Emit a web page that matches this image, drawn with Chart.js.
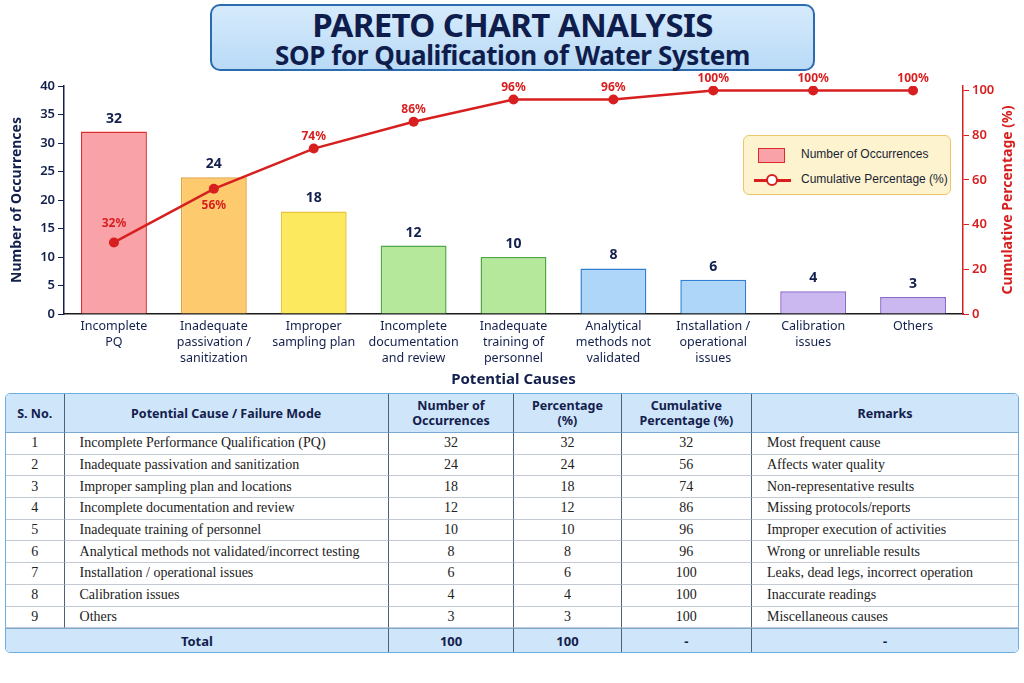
<!DOCTYPE html>
<html>
<head>
<meta charset="utf-8">
<script src="https://cdn.jsdelivr.net/npm/chart.js@4.4.1/dist/chart.umd.min.js"></script>
<style>
    body { margin: 0; width: 1024px; height: 683px; background: #ffffff; position: relative; overflow: hidden; font-family: "Noto Sans", sans-serif; }
    #titleBox {
        position: absolute; left: 210px; top: 4px; width: 605px; height: 67px; box-sizing: border-box;
        border: 2px solid #2b6cb0; border-radius: 10px;
        background: linear-gradient(#d6ebfc, #b9daf6);
        text-align: center; color: #0f1d4d; font-weight: 700;
    }
    #titleBox .t1 { font-size: 33px; line-height: 34px; margin-top: 2px; letter-spacing: -0.6px; }
    #titleBox .t2 { font-size: 26px; line-height: 26px; letter-spacing: -0.4px; }
    #chartWrap { position: absolute; left: 0; top: 72px; width: 1024px; height: 320px; }
    #legendBox {
        position: absolute; left: 743px; top: 135px; width: 208px; height: 60px; box-sizing: border-box;
        border: 1px solid #e9c767; border-radius: 6px; background: #fdf3cf;
        font-family: "Liberation Sans", sans-serif; font-size: 12px; color: #1a1f36;
    }
    .lg-row { position: absolute; left: 0; height: 20px; display: flex; align-items: center; }
    .lg-box { position: absolute; left: 14px; top: 3px; width: 27px; height: 15px; box-sizing: border-box; background: #f9a3a8; border: 1.5px solid #d92b2b; }
    .lg-line { position: absolute; left: 10px; top: 9px; width: 37px; height: 2.5px; background: #d81f1f; }
    .lg-dot { position: absolute; left: 22px; top: 4px; width: 12px; height: 12px; box-sizing: border-box; border: 2.5px solid #d81f1f; border-radius: 50%; background: #fff; }
    .lg-text { position: absolute; left: 57px; top: 2px; white-space: nowrap; }
    #dataTable {
        position: absolute; left: 5px; top: 393px; width: 1014px; border-collapse: separate; border-spacing: 0;
        border: 1.5px solid #6aaee2; border-radius: 5px; overflow: hidden;
        font-family: "Liberation Serif", serif; font-size: 14px; color: #222;
    }
    #dataTable th {
        background: #cfe6fa; font-family: "Noto Sans", sans-serif; font-weight: 700; font-size: 12.5px; color: #13204d;
        height: 38px; line-height: 15px; padding: 0; border-left: 1px solid #4d6277; border-bottom: 1px solid #7aa9d3;
    }
    #dataTable td { height: 20.7px; padding: 0; border-left: 1px solid #4d6277; border-bottom: 1px solid #c3cad3; line-height: 20px; }
    #dataTable tr td:first-child, #dataTable tr th:first-child { border-left: none; }
    #dataTable td.c { text-align: center; }
    #dataTable td.l { padding-left: 15px; }
    #dataTable tr.total td {
        background: #cfe6fa; font-family: "Noto Sans", sans-serif; font-weight: 700; font-size: 13px; color: #13204d;
        height: 23px; border-bottom: none; border-top: 1px solid #7aa9d3;
    }
</style>
</head>
<body>
<div id="titleBox">
    <div class="t1">PARETO CHART ANALYSIS</div>
    <div class="t2">SOP for Qualification of Water System</div>
</div>
<div id="chartWrap"><canvas id="paretoChart"></canvas></div>
<div id="legendBox">
    <div class="lg-row" style="top:9px"><div class="lg-box"></div><span class="lg-text">Number of Occurrences</span></div>
    <div class="lg-row" style="top:34px"><div class="lg-line"></div><div class="lg-dot"></div><span class="lg-text">Cumulative Percentage (%)</span></div>
</div>
<table id="dataTable">
    <thead></thead>
    <tbody></tbody>
</table>
<script>
"use strict";

// Gegevens uit de grafiek en de tabel.
const causeLabels = [
    ["Incomplete", "PQ"],
    ["Inadequate", "passivation /", "sanitization"],
    ["Improper", "sampling plan"],
    ["Incomplete", "documentation", "and review"],
    ["Inadequate", "training of", "personnel"],
    ["Analytical", "methods not", "validated"],
    ["Installation /", "operational", "issues"],
    ["Calibration", "issues"],
    ["Others"]
];
const occurrences = [32, 24, 18, 12, 10, 8, 6, 4, 3];
const cumulativePct = [32, 56, 74, 86, 96, 96, 100, 100, 100];
const percentages = [32, 24, 18, 12, 10, 8, 6, 4, 3];
const leftTicks = [0, 5, 10, 15, 20, 25, 30, 35, 40];
const rightTicks = [0, 20, 40, 60, 80, 100];

const tableHeaders = ["S. No.", "Potential Cause / Failure Mode", "Number of<br>Occurrences", "Percentage<br>(%)", "Cumulative<br>Percentage (%)", "Remarks"];
const tableCauses = [
    "Incomplete Performance Qualification (PQ)",
    "Inadequate passivation and sanitization",
    "Improper sampling plan and locations",
    "Incomplete documentation and review",
    "Inadequate training of personnel",
    "Analytical methods not validated/incorrect testing",
    "Installation / operational issues",
    "Calibration issues",
    "Others"
];
const remarks = [
    "Most frequent cause",
    "Affects water quality",
    "Non-representative results",
    "Missing protocols/reports",
    "Improper execution of activities",
    "Wrong or unreliable results",
    "Leaks, dead legs, incorrect operation",
    "Inaccurate readings",
    "Miscellaneous causes"
];
const totalRow = ["Total", "100", "100", "-", "-"];

// Kleuren per staaf.
const barFill = ["#f9a3a8", "#fdca6e", "#fde95e", "#b5e89b", "#b5e89b", "#aed6f8", "#aed6f8", "#cbb8f1", "#cbb8f1"];
const barBorder = ["#dc3030", "#e5a23c", "#e7c43d", "#4fa845", "#4fa845", "#2f80d2", "#2f80d2", "#8b6ccb", "#8b6ccb"];

const navy = "#13204d";
const red = "#d81f1f";

// Bouw de tabel op uit de arrays.
function bouwTabel() {
    const colWidths = [58, 326, 125, 107, 130, 268];
    const thead = document.querySelector("#dataTable thead");
    let kop = "<tr>";
    tableHeaders.forEach((h, i) => { kop += `<th style="width:${colWidths[i]}px">${h}</th>`; });
    thead.innerHTML = kop + "</tr>";

    const tbody = document.querySelector("#dataTable tbody");
    let html = "";
    tableCauses.forEach((c, i) => {
        html += `<tr>
            <td class="c">${i + 1}</td>
            <td class="l">${c}</td>
            <td class="c">${occurrences[i]}</td>
            <td class="c">${percentages[i]}</td>
            <td class="c">${cumulativePct[i]}</td>
            <td class="l">${remarks[i]}</td>
        </tr>`;
    });
    html += `<tr class="total"><td class="c" colspan="2">${totalRow[0]}</td>`;
    for (let i = 1; i < totalRow.length; i++) {
        html += `<td class="c">${totalRow[i]}</td>`;
    }
    tbody.innerHTML = html + "</tr>";
}

// Plugin voor de waardes boven de staven, de percentages bij de punten en de rechter astitel.
const labelPlugin = {
    id: "labelPlugin",
    afterDatasetsDraw(chart) {
        const ctx = chart.ctx;
        ctx.save();
        ctx.textAlign = "center";
        ctx.textBaseline = "middle";

        const barMeta = chart.getDatasetMeta(1);
        ctx.font = "bold 14px 'Noto Sans', sans-serif";
        ctx.fillStyle = navy;
        barMeta.data.forEach((bar, i) => {
            ctx.fillText(occurrences[i], bar.x, bar.y - 13);
        });

        const lineMeta = chart.getDatasetMeta(0);
        ctx.font = "bold 12px 'Noto Sans', sans-serif";
        ctx.fillStyle = red;
        lineMeta.data.forEach((pt, i) => {
            let dy = -12;
            if (i === 0) dy = -19;
            if (i === 1) dy = 17;
            ctx.fillText(cumulativePct[i] + "%", pt.x, pt.y + dy);
        });

        // Rechter astitel, leesrichting van onder naar boven.
        const area = chart.chartArea;
        ctx.translate(1008, (area.top + area.bottom) / 2);
        ctx.rotate(-Math.PI / 2);
        ctx.font = "bold 14px 'Noto Sans', sans-serif";
        ctx.fillText("Cumulative Percentage (%)", 0, 0);
        ctx.restore();
    }
};

function tekenGrafiek() {
    Chart.defaults.font.family = "'Noto Sans', sans-serif";
    Chart.defaults.color = navy;

    const canvas = document.getElementById("paretoChart").getContext("2d");
    new Chart(canvas, {
        type: "bar",
        data: {
            labels: causeLabels,
            datasets: [
                {
                    type: "line",
                    label: "Cumulative Percentage (%)",
                    data: cumulativePct,
                    yAxisID: "yRight",
                    borderColor: red,
                    backgroundColor: red,
                    borderWidth: 2.5,
                    pointRadius: 5,
                    pointBackgroundColor: red,
                    pointBorderWidth: 0,
                    tension: 0,
                    order: 0
                },
                {
                    type: "bar",
                    label: "Number of Occurrences",
                    data: occurrences,
                    yAxisID: "yLeft",
                    backgroundColor: barFill,
                    borderColor: barBorder,
                    borderWidth: 1.5,
                    barPercentage: 0.66,
                    categoryPercentage: 1,
                    order: 1
                }
            ]
        },
        options: {
            responsive: true,
            maintainAspectRatio: false,
            animation: false,
            layout: { padding: { top: 14, left: 0, right: 0, bottom: 0 } },
            plugins: {
                legend: { display: false },
                tooltip: { enabled: false }
            },
            scales: {
                x: {
                    grid: { display: false, drawTicks: false },
                    border: { display: true, color: "#1a1a1a", width: 1.5 },
                    ticks: {
                        color: navy,
                        font: { size: 12.5, lineHeight: 1.25 },
                        padding: 5,
                        maxRotation: 0,
                        autoSkip: false
                    },
                    title: {
                        display: true,
                        text: "Potential Causes",
                        color: navy,
                        font: { size: 15, weight: "bold" },
                        padding: { top: 0, bottom: 3 }
                    },
                    afterFit(scale) { scale.height = 78; }
                },
                yLeft: {
                    position: "left",
                    min: 0,
                    max: 40,
                    afterBuildTicks(scale) { scale.ticks = leftTicks.map(v => ({ value: v })); },
                    grid: { drawOnChartArea: false, drawTicks: true, tickLength: 6, color: navy },
                    border: { display: true, color: navy, width: 1.5 },
                    ticks: { color: navy, font: { size: 13, weight: "600" }, padding: 3 },
                    title: {
                        display: true,
                        text: "Number of Occurrences",
                        color: navy,
                        font: { size: 14, weight: "bold" },
                        padding: { top: 9, bottom: 0 }
                    },
                    afterFit(scale) { scale.width = 64; }
                },
                yRight: {
                    position: "right",
                    min: 0,
                    max: 102,
                    afterBuildTicks(scale) { scale.ticks = rightTicks.map(v => ({ value: v })); },
                    grid: { drawOnChartArea: false, drawTicks: true, tickLength: 6, color: red },
                    border: { display: true, color: red, width: 1.5 },
                    ticks: { color: red, font: { size: 13, weight: "600" }, padding: 3 },
                    title: { display: false },
                    afterFit(scale) { scale.width = 61; }
                }
            }
        },
        plugins: [labelPlugin]
    });
}

window.onload = function() {
    bouwTabel();
    tekenGrafiek();
};
</script>
</body>
</html>
